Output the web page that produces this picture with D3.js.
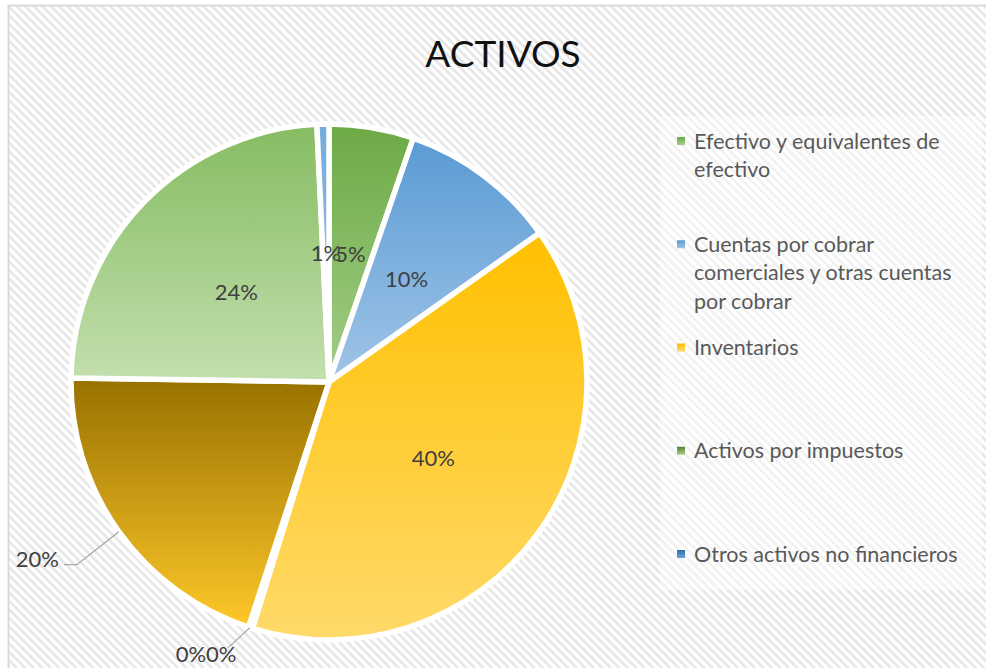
<!DOCTYPE html>
<html>
<head>
<meta charset="utf-8">
<script src="https://cdn.jsdelivr.net/npm/d3@7"></script>
<style>
  html, body { margin: 0; padding: 0; background: #fff; }
  #chart { width: 986px; height: 668px; }
  text { font-family: Lato, "Open Sans", sans-serif; }
</style>
</head>
<body>
<div id="chart"></div>
<script>
// Slices, clockwise from 12 o'clock (values in %)
const categories = [
  "Efectivo y equivalentes de efectivo",
  "Cuentas por cobrar comerciales y otras cuentas por cobrar",
  "Inventarios",
  "Activos por impuestos",
  "Otros activos no financieros",
  "Propiedades, planta y equipo",
  "Propiedades de inversión",
  "Activos intangibles"
];
const values = [5.3, 9.9, 39.6, 0.15, 0.1, 20.2, 24.0, 0.75];
// gradient top -> bottom for each slice
const topColors = ["#6CAA45", "#5A9AD4", "#FFC000", "#507F34", "#2A6EAD", "#977100", "#86BC62", "#74ABDD"];
const bottomColors = ["#A3CE87", "#A0C5E7", "#FFDA6A", "#A9D18E", "#6FA3D6", "#FFC82A", "#C3DFAE", "#9DC3E6"];
// only the first five entries fit in the legend
const legendLines = [
  ["Efectivo y equivalentes de", "efectivo"],
  ["Cuentas por cobrar", "comerciales y otras cuentas", "por cobrar"],
  ["Inventarios"],
  ["Activos por impuestos"],
  ["Otros activos no financieros"]
];
const title = "ACTIVOS";

const width = 986, height = 668;
const cx = 329, cy = 382, radius = 258;

const svg = d3.select("#chart").append("svg")
  .attr("width", width)
  .attr("height", height);

const defs = svg.append("defs");

// diagonal hatch background
const pat = defs.append("pattern")
  .attr("id", "hatch")
  .attr("patternUnits", "userSpaceOnUse")
  .attr("width", 6)
  .attr("height", 6)
  .attr("patternTransform", "rotate(-45)");
pat.append("rect").attr("width", 6).attr("height", 6).attr("fill", "#fff");
pat.append("line")
  .attr("x1", 1.5).attr("y1", 0).attr("x2", 1.5).attr("y2", 6)
  .attr("stroke", "#e4e4e4").attr("stroke-width", 2.4);

// gradient per slice
values.forEach((v, i) => {
  const g = defs.append("linearGradient")
    .attr("id", "grad" + i)
    .attr("x1", 0).attr("y1", 0).attr("x2", 0).attr("y2", 1);
  g.append("stop").attr("offset", "0%").attr("stop-color", topColors[i]);
  g.append("stop").attr("offset", "100%").attr("stop-color", bottomColors[i]);
});

// chart frame
svg.append("rect")
  .attr("x", 8.5).attr("y", 5.5)
  .attr("width", width + 10).attr("height", height + 10)
  .attr("fill", "url(#hatch)")
  .attr("stroke", "#d9d9d9")
  .attr("stroke-width", 2);

// title
svg.append("text")
  .attr("x", 503)
  .attr("y", 67)
  .attr("text-anchor", "middle")
  .attr("font-size", 37)
  .attr("fill", "#111")
  .text(title);

// pie
const pie = d3.pie().sort(null).value((d) => d);
const arcs = pie(values);
const arc = d3.arc().innerRadius(0).outerRadius(radius);

const g = svg.append("g").attr("transform", `translate(${cx},${cy})`);

g.selectAll("path")
  .data(arcs)
  .join("path")
  .attr("d", arc)
  .attr("fill", (d, i) => `url(#grad${i})`)
  .attr("stroke", "#fff")
  .attr("stroke-width", 5.5)
  .attr("stroke-linejoin", "round");

// data labels
const labelColor = "#404040";
const labelSize = 22;
const fmt = (v) => Math.round(v) + "%";
const mid = (d) => (d.startAngle + d.endAngle) / 2;
const inner = d3.arc().innerRadius(radius * 0.5).outerRadius(radius * 0.5);

// inside labels
const insideIdx = [0, 1, 2, 6, 7];
g.selectAll("text.inside")
  .data(insideIdx.map((i) => arcs[i]))
  .join("text")
  .attr("class", "inside")
  .attr("x", (d) => inner.centroid(d)[0])
  .attr("y", (d) => inner.centroid(d)[1])
  .attr("dy", "0.35em")
  .attr("text-anchor", "middle")
  .attr("font-size", labelSize)
  .attr("fill", labelColor)
  .text((d) => fmt(d.value));

const edge = (a) => [radius * Math.sin(a), -radius * Math.cos(a)];

// 20% label, pulled out to the left
{
  const d = arcs[5];
  const p0 = edge(mid(d));
  const p1 = [p0[0] - 42, p0[1] + 33];
  const p2 = [p1[0] - 13, p1[1]];
  g.append("polyline")
    .attr("points", [p0, p1, p2].map((p) => p.join(",")).join(" "))
    .attr("fill", "none")
    .attr("stroke", "#a6a6a6")
    .attr("stroke-width", 1.3);
  g.append("text")
    .attr("x", p2[0] - 5)
    .attr("y", p2[1] - 5)
    .attr("dy", "0.35em")
    .attr("text-anchor", "end")
    .attr("font-size", labelSize)
    .attr("fill", labelColor)
    .text(fmt(d.value));
}

// the two 0% labels, below the pie
{
  const d = arcs[3];
  const p0 = edge(d.endAngle);
  const p1 = [p0[0] - 22, p0[1] + 20];
  g.append("line")
    .attr("x1", p0[0]).attr("y1", p0[1])
    .attr("x2", p1[0]).attr("y2", p1[1])
    .attr("stroke", "#a6a6a6")
    .attr("stroke-width", 1.3);
  g.append("text")
    .attr("x", p1[0] - 22)
    .attr("y", p1[1] + 7)
    .attr("dy", "0.35em")
    .attr("text-anchor", "middle")
    .attr("font-size", labelSize)
    .attr("fill", labelColor)
    .text(fmt(arcs[3].value) + fmt(arcs[4].value));
}

// legend
const legend = svg.append("g");
legend.append("rect")
  .attr("x", 660).attr("y", 116)
  .attr("width", 322).attr("height", 474)
  .attr("fill", "#fff")
  .attr("fill-opacity", 0.45);

const slotY = d3.scaleLinear().domain([0, 4]).range([141, 554]);
const item = legend.selectAll("g.item")
  .data(legendLines)
  .join("g")
  .attr("class", "item")
  .attr("transform", (d, i) => `translate(677,${slotY(i)})`);

item.append("rect")
  .attr("x", 0).attr("y", -4)
  .attr("width", 8).attr("height", 8)
  .attr("fill", (d, i) => `url(#grad${i})`);

item.append("text")
  .attr("x", 17)
  .attr("font-size", 21.5)
  .attr("fill", "#595959")
  .selectAll("tspan")
  .data((d) => d)
  .join("tspan")
  .attr("x", 17)
  .attr("y", (d, j) => j * 28.7)
  .attr("dy", "0.35em")
  .text((d) => d);
</script>
</body>
</html>
